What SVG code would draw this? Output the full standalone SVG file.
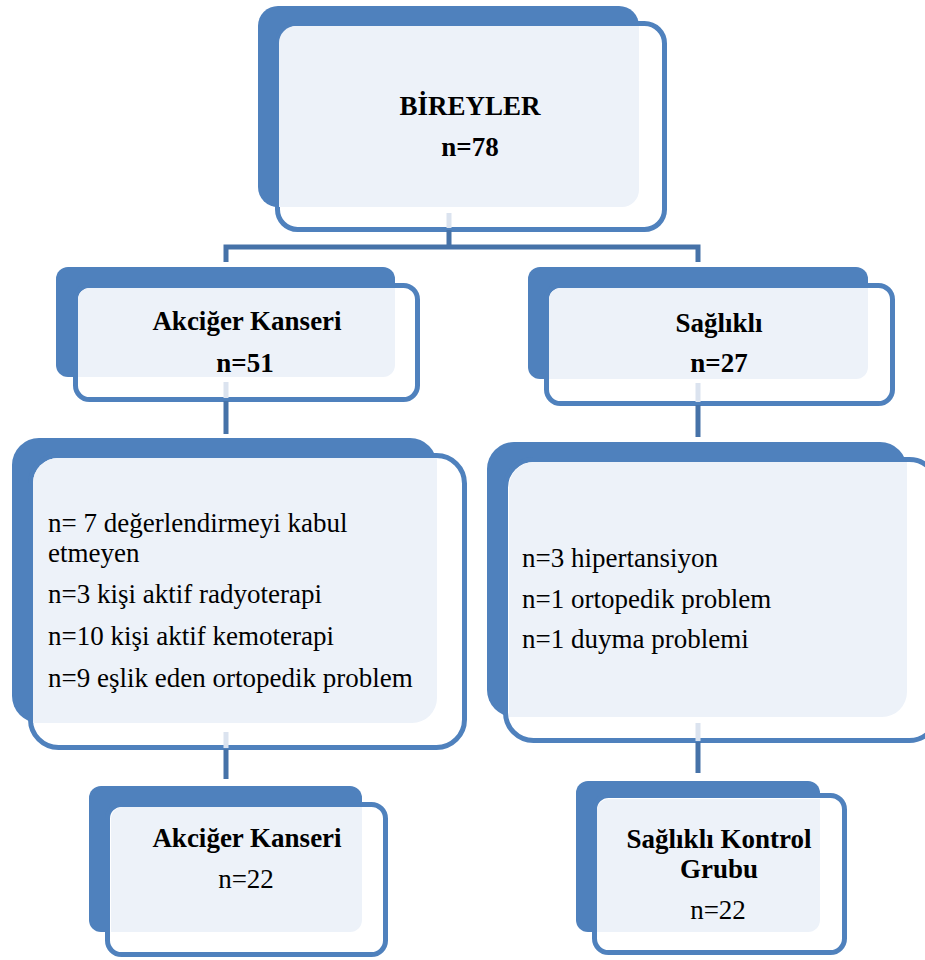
<svg xmlns="http://www.w3.org/2000/svg" width="925" height="960" viewBox="0 0 925 960" font-family="Liberation Serif">
<style>
.back{fill:#4f81bd}
.front{fill:#ffffff;stroke:#4f81bd;stroke-width:5}
.light{fill:#edf2f9}
text{font-family:'Liberation Serif',serif !important;font-size:27px;fill:#000}
.b{font-weight:bold}
.c{text-anchor:middle}
.con{stroke:#4672a8;stroke-width:5;fill:none}
.pale{stroke:#dbe3ef;stroke-width:5;fill:none}
</style>
<rect width="925" height="960" fill="#ffffff"/>
<g id="bireyler">
<rect class="back" x="258" y="6" width="381" height="201" rx="20"/>
<rect class="front" x="277.5" y="23.5" width="387" height="206" rx="20"/>
<path class="light" d="M296 26 H639 V190 A17 17 0 0 1 622 207 H279 V43 A17 17 0 0 1 296 26 Z"/>
<text class="b c" style="font-family:'Liberation Serif',serif !important" x="470" y="115">BİREYLER</text>
<text class="b c" style="font-family:'Liberation Serif',serif !important" x="470" y="156">n=78</text>
</g>
<g id="akciger-kanseri">
<rect class="back" x="56" y="267" width="339" height="110" rx="12"/>
<rect class="front" x="75.5" y="285.5" width="342" height="114" rx="14"/>
<path class="light" d="M90 288 H395 V365 A12 12 0 0 1 383 377 H78 V300 A12 12 0 0 1 90 288 Z"/>
<text class="b c" style="font-family:'Liberation Serif',serif !important" x="247" y="330">Akciğer Kanseri</text>
<text class="b c" style="font-family:'Liberation Serif',serif !important" x="245" y="372">n=51</text>
</g>
<g id="saglikli">
<rect class="back" x="528" y="267" width="340" height="112" rx="12"/>
<rect class="front" x="546.5" y="285.5" width="346" height="118" rx="14"/>
<path class="light" d="M561 288 H868 V367 A12 12 0 0 1 856 379 H549 V300 A12 12 0 0 1 561 288 Z"/>
<text class="b c" style="font-family:'Liberation Serif',serif !important" x="719" y="332">Sağlıklı</text>
<text class="b c" style="font-family:'Liberation Serif',serif !important" x="719" y="372">n=27</text>
</g>
<g id="dislanan-hasta">
<rect class="back" x="12" y="438" width="425" height="285" rx="27"/>
<rect class="front" x="30.5" y="455.5" width="434" height="292" rx="28"/>
<path class="light" d="M58 458 H437 V698 A25 25 0 0 1 412 723 H33 V483 A25 25 0 0 1 58 458 Z"/>
<text style="font-family:'Liberation Serif',serif !important" x="48" y="532">n= 7 değerlendirmeyi kabul</text>
<text style="font-family:'Liberation Serif',serif !important" x="48" y="562">etmeyen</text>
<text style="font-family:'Liberation Serif',serif !important" x="48" y="603">n=3 kişi aktif radyoterapi</text>
<text style="font-family:'Liberation Serif',serif !important" x="48" y="645">n=10 kişi aktif kemoterapi</text>
<text style="font-family:'Liberation Serif',serif !important" x="48" y="687">n=9 eşlik eden ortopedik problem</text>
</g>
<g id="dislanan-saglikli">
<rect class="back" x="487" y="442" width="420" height="275" rx="27"/>
<rect class="front" x="505.5" y="459.5" width="432" height="281" rx="28"/>
<path class="light" d="M534 462 H907 V692 A25 25 0 0 1 882 717 H509 V487 A25 25 0 0 1 534 462 Z"/>
<text style="font-family:'Liberation Serif',serif !important" x="522" y="567">n=3 hipertansiyon</text>
<text style="font-family:'Liberation Serif',serif !important" x="522" y="608">n=1 ortopedik problem</text>
<text style="font-family:'Liberation Serif',serif !important" x="522" y="648">n=1 duyma problemi</text>
</g>
<g id="akciger-son">
<rect class="back" x="89" y="786" width="273" height="146" rx="12"/>
<rect class="front" x="107.5" y="804.5" width="278" height="150" rx="14"/>
<path class="light" d="M123 807 H362 V920 A12 12 0 0 1 350 932 H111 V819 A12 12 0 0 1 123 807 Z"/>
<text class="b c" style="font-family:'Liberation Serif',serif !important" x="247" y="847">Akciğer Kanseri</text>
<text class="c" style="font-family:'Liberation Serif',serif !important" x="246" y="888">n=22</text>
</g>
<g id="kontrol-son">
<rect class="back" x="576" y="781" width="244" height="151" rx="12"/>
<rect class="front" x="594.5" y="795.5" width="250" height="157" rx="14"/>
<path class="light" d="M609 799 H820 V920 A12 12 0 0 1 808 932 H597 V811 A12 12 0 0 1 609 799 Z"/>
<text class="b c" style="font-family:'Liberation Serif',serif !important" x="719" y="848">Sağlıklı Kontrol</text>
<text class="b c" style="font-family:'Liberation Serif',serif !important" x="719" y="878">Grubu</text>
<text class="c" style="font-family:'Liberation Serif',serif !important" x="718" y="919">n=22</text>
</g>
<g id="connectors">
<path class="pale" d="M449 213 V228 M226 382 V398 M698 383 V402 M226 732 V748 M698 723 V741"/>
<path class="con" d="M449 230 V247 M223.5 247 H700.5 M226 247 V262 M698 247 V262 M226 401 V434 M698 405 V437 M226 749 V779 M698 742 V773"/>
</g>
</svg>
